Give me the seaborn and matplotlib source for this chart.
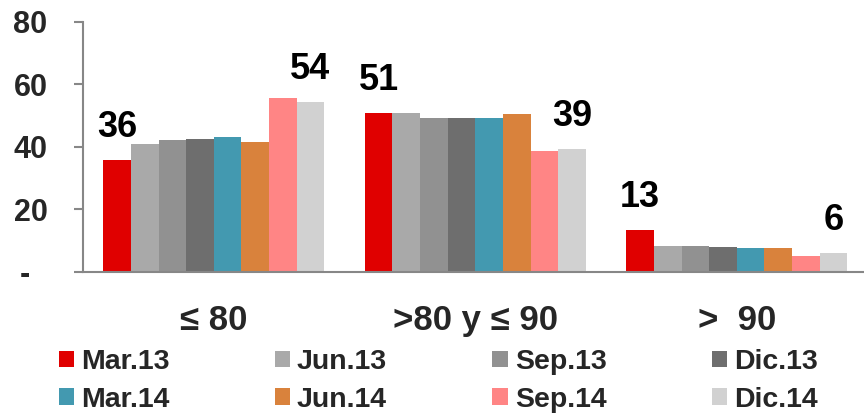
import numpy as np
import pandas as pd
import matplotlib
matplotlib.use("Agg")
import matplotlib.pyplot as plt
import seaborn as sns

# categories and series
categories = ["\u2264 80", ">80 y \u2264 90", ">  90"]
periods = ["Mar.13", "Jun.13", "Sep.13", "Dic.13", "Mar.14", "Jun.14", "Sep.14", "Dic.14"]
colors = ["#E00000", "#A9A9A9", "#919191", "#6E6E6E", "#4399B0", "#D9823C", "#FF8585", "#D1D1D1"]

mar13 = [35.8, 50.9, 13.4]
jun13 = [40.8, 50.8, 8.3]
sep13 = [42.2, 49.3, 8.3]
dic13 = [42.6, 49.3, 8.1]
mar14 = [43.2, 49.2, 7.7]
jun14 = [41.7, 50.6, 7.7]
sep14 = [55.8, 38.8, 5.2]
dic14 = [54.4, 39.3, 6.1]

y_ticks = [0, 20, 40, 60, 80]
y_tick_labels = ["-  ", "20", "40", "60", "80"]

series = [mar13, jun13, sep13, dic13, mar14, jun14, sep14, dic14]
df = pd.DataFrame({
    "Categoria": np.tile(categories, len(periods)),
    "Periodo": np.repeat(periods, len(categories)),
    "Valor": np.concatenate(series),
})

sns.set_theme(style="white")
plt.rcParams["font.family"] = ["Liberation Sans", "DejaVu Sans"]
plt.rcParams["font.weight"] = "bold"

fig = plt.figure(figsize=(8.64, 4.15), dpi=100)
ax = fig.add_axes([0.0961, 0.3446, 0.908, 0.6024])

sns.barplot(
    data=df, x="Categoria", y="Valor", hue="Periodo",
    order=categories, hue_order=periods, palette=colors,
    width=0.845, saturation=1, errorbar=None, ax=ax,
    edgecolor="none", linewidth=0,
)

# data labels on the first and last bar of each group
n = len(periods)
for i in [0, n - 1]:
    cont = ax.containers[i]
    for bar in cont:
        v = bar.get_height()
        ax.annotate(f"{v:.0f}", (bar.get_x() + bar.get_width() / 2, v),
                    xytext=(0, 11), textcoords="offset points",
                    ha="center", va="bottom", fontsize=26, fontweight="bold",
                    color="black")

ax.set_ylim(0, 80)
ax.set_xlim(-0.5, len(categories) - 0.5)
ax.set_yticks(y_ticks)
ax.set_yticklabels(y_tick_labels, fontsize=22, fontweight="bold")
ax.set_xticks(range(len(categories)))
ax.set_xticklabels(categories, fontsize=25, fontweight="bold")
ax.set_xticks(np.arange(-0.5, len(categories)), minor=True)
ax.tick_params(axis="x", which="major", length=0, pad=23)
ax.tick_params(axis="x", which="minor", length=8, width=1.5, color="#878787", direction="out")
ax.tick_params(axis="y", length=6.5, width=1.5, color="#878787", direction="out", pad=19, left=True)
ax.set_xlabel("")
ax.set_ylabel("")

for s in ["top", "right"]:
    ax.spines[s].set_visible(False)
for s in ["left", "bottom"]:
    ax.spines[s].set_color("#878787")
    ax.spines[s].set_linewidth(1.5)
ax.grid(False)

# legend: row-major order as in the reference (2 rows x 4 cols)
handles, labels = ax.get_legend_handles_labels()
ax.get_legend().remove()
order = [0, 4, 1, 5, 2, 6, 3, 7]
leg = fig.legend(
    [handles[i] for i in order], [labels[i] for i in order],
    ncol=4, loc="upper left", bbox_to_anchor=(0.068, 0.159),
    frameon=False, borderpad=0, borderaxespad=0,
    prop={"size": 20.5, "weight": "bold"},
    handlelength=0.53, handleheight=0.53, handletextpad=0.25,
    columnspacing=3.7, labelspacing=0.42,
)

fig.savefig("out.png", dpi=100)
